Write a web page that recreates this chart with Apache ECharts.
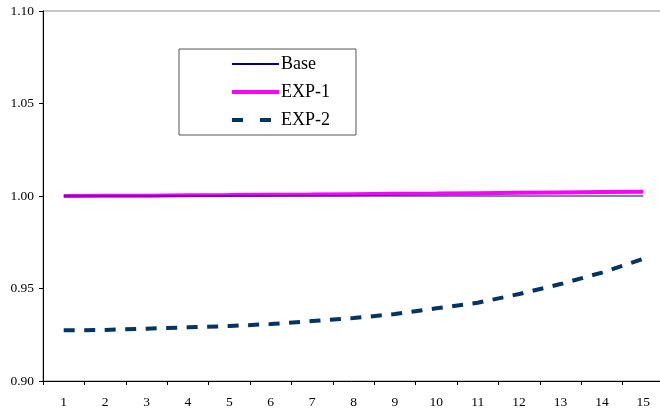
<!DOCTYPE html>
<html>
<head>
<meta charset="utf-8">
<script src="https://cdn.jsdelivr.net/npm/echarts@6/dist/echarts.min.js"></script>
<style>
html,body{margin:0;padding:0;background:#fff;}
#c{width:660px;height:408px;}
</style>
</head>
<body>
<div id="c"></div>
<script>
var categories = ['1','2','3','4','5','6','7','8','9','10','11','12','13','14','15'];
var baseValues = [1.0000,1.0000,1.0000,1.0000,1.0000,1.0000,1.0000,1.0000,1.0000,1.0000,1.0000,1.0000,1.0000,1.0000,1.0000];
var exp1Values = [1.0000,1.0001,1.0002,1.0004,1.0005,1.0007,1.0008,1.0010,1.0012,1.0013,1.0015,1.0017,1.0019,1.0021,1.0023];
var exp2Values = [0.9274,0.9276,0.9283,0.9290,0.9297,0.9308,0.9324,0.9340,0.9362,0.9393,0.9423,0.9470,0.9524,0.9586,0.9660];
var yTicks = { min: 0.90, max: 1.10, interval: 0.05 };

var font = 'Liberation Serif';
var chart = echarts.init(document.getElementById('c'), null, {renderer:'canvas'});
chart.setOption({
  animation: false,
  backgroundColor: '#ffffff',
  grid: {
    left: 43, width: 621, top: 11, bottom: 27,
    outerBoundsMode: 'none',
    containLabel: false,
    show: true, borderColor: '#8c8c8c', borderWidth: 1, backgroundColor: 'transparent'
  },
  legend: {
    orient: 'vertical',
    left: 179, top: 49,
    padding: [5, 26, 5, 51],
    backgroundColor: '#ffffff',
    borderColor: '#555555',
    borderWidth: 1,
    itemWidth: 47,
    itemHeight: 8,
    itemGap: 8,
    itemStyle: { opacity: 0 },
    textStyle: { fontFamily: font, fontSize: 18, lineHeight: 20, color: '#000', padding: [0,0,0,-3] },
    data: [
      { name: 'Base' },
      { name: 'EXP-1', lineStyle: { width: 4 } },
      { name: 'EXP-2', lineStyle: { type: [11, 17], width: 4 } }
    ]
  },
  xAxis: {
    type: 'category',
    data: categories,
    boundaryGap: true,
    axisLine: { lineStyle: { color: '#000', width: 1 } },
    axisTick: { show: true, length: 4, inside: false, lineStyle: { color: '#000' } },
    axisLabel: { fontFamily: font, fontSize: 13.5, color: '#000', margin: 14 },
    splitLine: { show: false }
  },
  yAxis: {
    type: 'value',
    min: yTicks.min, max: yTicks.max, interval: yTicks.interval,
    axisLine: { show: true, lineStyle: { color: '#000', width: 1 } },
    axisTick: { show: true, length: 4, lineStyle: { color: '#000' } },
    axisLabel: { fontFamily: font, fontSize: 13.5, color: '#000', margin: 9,
      formatter: function (v) { return v.toFixed(2); } },
    splitLine: { show: false }
  },
  series: [
    {
      name: 'Base', type: 'line', data: baseValues,
      symbol: 'none', color: '#000080',
      lineStyle: { color: '#000080', width: 1.2 }, z: 3
    },
    {
      name: 'EXP-1', type: 'line', data: exp1Values,
      symbol: 'none', color: '#ff00ff',
      lineStyle: { color: '#ff00ff', width: 4 }, z: 2
    },
    {
      name: 'EXP-2', type: 'line', data: exp2Values,
      symbol: 'none', color: '#003366',
      lineStyle: { color: '#003366', width: 4, type: [11, 9.5] }, z: 2
    }
  ]
});
</script>
</body>
</html>
